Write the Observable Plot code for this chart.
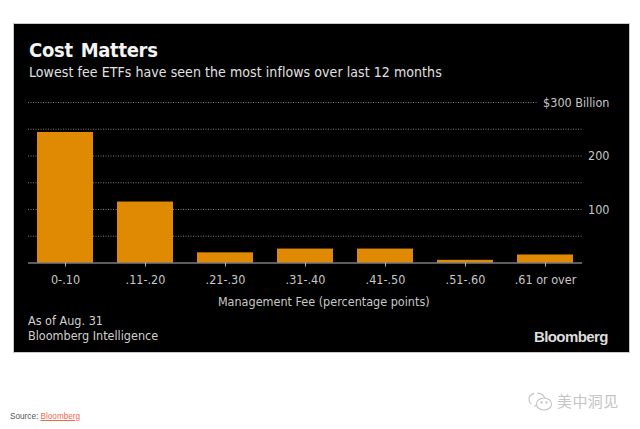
<!DOCTYPE html>
<html><head><meta charset="utf-8">
<script src="https://cdn.jsdelivr.net/npm/d3@7"></script>
<script src="https://cdn.jsdelivr.net/npm/@observablehq/plot@0.6"></script>
<style>
html,body{margin:0;padding:0;background:#fff;width:640px;height:429px;overflow:hidden;font-family:"DejaVu Sans Condensed","DejaVu Sans",sans-serif;font-stretch:condensed}
#panel{position:absolute;left:13.5px;top:24px;width:615.5px;height:328px;background:#000;box-shadow:0 0 0 1px #c8c8c8}
#chart{position:absolute;left:0;top:90px}
#chart svg{display:block;background:transparent}
.t{position:absolute;white-space:nowrap}
#title{left:29px;top:36.5px;font-size:20px;line-height:26px;font-weight:700;color:#f4f4f4;letter-spacing:-.3px;word-spacing:2px}
#sub{left:29px;top:62.5px;font-size:14px;line-height:18px;color:#e2e2e2;letter-spacing:.065px}
#note{left:28px;top:314px;font-size:12.5px;line-height:14.5px;color:#d0d0d0}
#logo{left:534px;top:328px;font:700 15px/18px "Liberation Sans",sans-serif;font-stretch:normal;letter-spacing:-.6px;color:#dcdcdc}
#source{left:10px;top:410.5px;font:8.2px/12px "Liberation Sans",sans-serif;font-stretch:normal;color:#555}
#source span{color:#f0694a;text-decoration:underline}
#wm{left:557px;top:391px;font:15px/20px "Noto Sans CJK SC",sans-serif;font-stretch:normal;color:#c4c4c4;letter-spacing:.4px}
#wmi{position:absolute;left:528px;top:392px}
</style></head><body>
<div id="panel"></div>
<div id="chart"></div>
<div class="t" id="title">Cost Matters</div>
<div class="t" id="sub">Lowest fee ETFs have seen the most inflows over last 12 months</div>
<div class="t" id="note">As of Aug. 31<br>Bloomberg Intelligence</div>
<div class="t" id="logo">Bloomberg</div>
<div class="t" id="source">Source: <span>Bloomberg</span></div>
<svg id="wmi" width="26" height="20" viewBox="0 0 26 20" fill="none" stroke="#c4c4c4" stroke-width="1.1"><ellipse cx="9" cy="7.5" rx="8" ry="6.5" stroke-dasharray="14 3"/><ellipse cx="16" cy="12" rx="7.5" ry="6" fill="#fff"/><circle cx="13.5" cy="10.5" r=".6"/><circle cx="18.5" cy="10.5" r=".6"/></svg>
<div class="t" id="wm">美中洞见</div>
<script>
const fees = ["0-.10", ".11-.20", ".21-.30", ".31-.40", ".41-.50", ".51-.60", ".61 or over"];
const inflows = [244, 114, 19, 26, 26, 5, 15];
const gridValues = [50, 100, 150, 200, 250];
const topGrid = [300];
const labelValues = [100, 200, 300];
const xLabel = "Management Fee (percentage points)";
const data = fees.map((fee, i) => ({fee, value: inflows[i]}));
const axisColor = "#c8c8c8";
const plot = Plot.plot({
  width: 640, height: 220,
  marginTop: 12, marginBottom: 47.5, marginLeft: 24.5, marginRight: 54,
  style: {background: "transparent", fontFamily: "DejaVu Sans Condensed, DejaVu Sans, sans-serif", fontStretch: "condensed", fontSize: "12.5px", color: axisColor},
  x: {domain: fees, paddingInner: 0.3, paddingOuter: 0.15, label: null},
  y: {domain: [0, 300], label: null},
  marks: [
    Plot.ruleY(gridValues, {stroke: "#7c7c7c", strokeWidth: 1, strokeDasharray: "1,1.5", insetLeft: 3.5, insetRight: 3.9}),
    Plot.ruleY(topGrid, {stroke: "#7c7c7c", strokeWidth: 1, strokeDasharray: "1,1.5", insetLeft: 3.5, insetRight: 49}),
    Plot.barY(data, {x: "fee", y: "value", fill: "#e08a04"}),
    Plot.ruleY([0], {stroke: "#b8b8c0", strokeWidth: 1, insetLeft: 3.5, insetRight: 3.9}),
    Plot.axisX({tickSize: 4, tickPadding: 8, stroke: "#b8b8c0", fill: axisColor, fontSize: 12.5, label: null}),
    Plot.axisY({anchor: "right", ticks: labelValues, tickSize: 0, tickPadding: 0, textAnchor: "end", dx: 23, fill: axisColor, fontSize: 12.5, label: null,
      tickFormat: d => d === 300 ? "$300 Billion" : String(d)}),
    Plot.text([xLabel], {frameAnchor: "bottom", dy: 43, dx: 18, fill: axisColor, fontSize: 12.5})
  ]
});
document.getElementById("chart").appendChild(plot);
</script>
</body></html>
